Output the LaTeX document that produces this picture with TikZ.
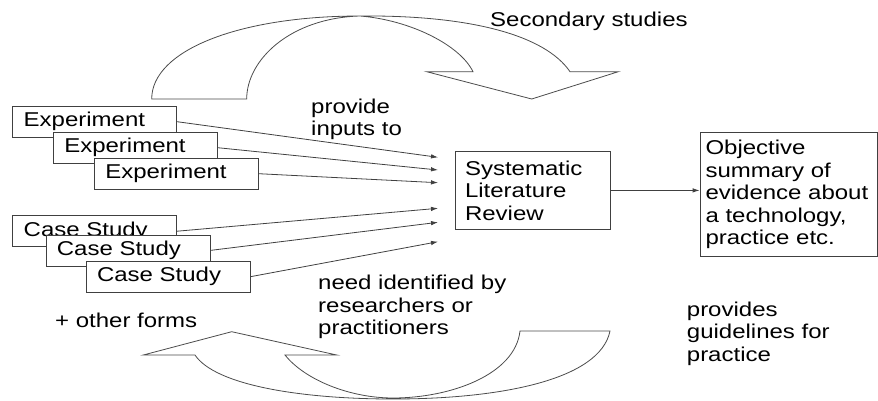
\documentclass[tikz,border=0pt]{standalone}
\usepackage{fontspec}
\setmainfont{Liberation Sans}[FakeStretch=1.2]
\usetikzlibrary{arrows.meta,positioning}

\begin{document}
\begin{tikzpicture}[x=1pt,y=-1pt,on grid,
	font=\fontsize{20}{22.5}\selectfont,
	>={Latex[length=7pt,width=4.5pt]},
	every edge/.append style={draw=black!75,line width=0.8pt},
	study/.style={draw=black!75,fill=white,line width=0.8pt,minimum height=31pt,text width=142pt,inner xsep=11pt,align=left},
	box/.style={draw=black!75,line width=0.8pt,inner xsep=10pt,align=left},
	note/.style={inner sep=0pt,align=left,anchor=west},
	ribbon/.style={draw=black!70,line width=0.8pt,fill=white}]
	\useasboundingbox (0,0) rectangle (878,400);
	% curved arrows
	\draw[ribbon] (151.7,99) .. controls (151.7,50) and (240,16) .. (360,16)
	 .. controls (470,15) and (545,35) .. (570,71.7) -- (618.3,71.7) -- (531.7,99) -- (426.7,71.7) -- (473,71.7)
	 .. controls (460,45) and (410,20) .. (360,16)
	 .. controls (290,18) and (246.7,60) .. (246.7,99) -- cycle;
	\draw[ribbon] (195,355) .. controls (215,385) and (300,399) .. (393,399)
	 .. controls (500,399) and (600,380) .. (610,331) -- (520,331)
	 .. controls (515,375) and (450,398) .. (393,398)
	 .. controls (350,398) and (305,380) .. (285,355) -- (336.7,355) -- (231.7,331.7) -- (143.3,355) -- cycle;
	% primary studies
	\node[study] (exp_1) at (94.7,121.7) {Experiment};
	\node[study] (exp_2) [below right=26pt and 40.6pt of exp_1] {Experiment};
	\node[study] (exp_3) [below right=26pt and 41pt of exp_2] {Experiment};
	\node[study] (cs_1) at (94.7,231.2) {Case Study};
	\node[study] (cs_2) [below right=19.2pt and 33.2pt of cs_1] {Case Study};
	\node[study] (cs_3) [below right=26.3pt and 40.1pt of cs_2] {Case Study};
	\node[box,minimum width=155.7pt,minimum height=77.3pt,text width=135.7pt] (slr) at (532.9,190.4) {Systematic\\Literature\\Review};
	\node[box,minimum height=124pt,text width=166pt,inner xsep=5.5pt] (summary) at (788.5,194.7) {Objective\\summary of\\evidence about\\a technology,\\practice etc.};
	\coordinate (in_1) at (438,157.3);
	\coordinate (in_2) at (438,170);
	\coordinate (in_3) at (438,182.7);
	\coordinate (in_4) at (438,208.3);
	\coordinate (in_5) at (438,222.3);
	\coordinate (in_6) at (438,241.7);
	\path[->]
	(exp_1.east) edge (in_1)
	(exp_2.east) edge (in_2)
	(exp_3.east) edge (in_3)
	(cs_1.east) edge (in_4)
	(cs_2.east) edge (in_5)
	(cs_3.east) edge (in_6)
	(slr.east) edge (slr.east -| summary.west);
	% labels
	\node[note] (provide) at (311,119.5) {provide\\inputs to};
	\node[note,anchor=base west] (secondary) at (490,26.7) {Secondary studies};
	\node[note] (need) at (318,307) {need identified by\\researchers or\\practitioners};
	\node[note,anchor=base west] (other) at (55,327.3) {+ other forms};
	\node[note] (guide) at (686.7,333.5) {provides\\guidelines for\\practice};
\end{tikzpicture}
\end{document}
